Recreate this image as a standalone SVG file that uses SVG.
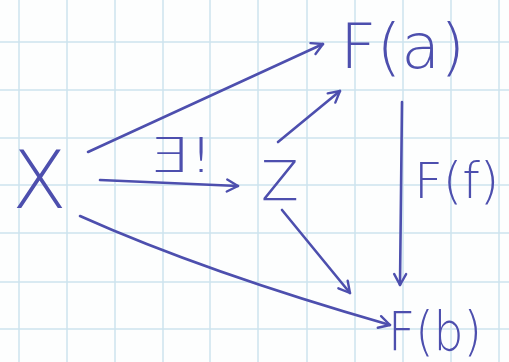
<svg xmlns="http://www.w3.org/2000/svg" width="509" height="362" viewBox="0 0 509 362">
  <style>
    .grid line { stroke: #cde3ee; stroke-width: 1.5; }
    .ink { font-family: "DejaVu Sans", "Liberation Sans", sans-serif; font-weight: 200; fill: #4d4fae; }
    .edge { fill: none; stroke: #4d4fae; stroke-width: 2.6; stroke-linecap: round; }
  </style>
  <defs>
    <marker id="arr" viewBox="0 0 16 16" refX="14" refY="8" markerWidth="16" markerHeight="16" markerUnits="userSpaceOnUse" orient="auto">
      <path d="M3,2 L14,8 L3,14" fill="none" stroke="#4d4fae" stroke-width="2.4" stroke-linecap="round" stroke-linejoin="round"/>
    </marker>
  </defs>
  <rect width="509" height="362" fill="#fdfefe"/>
  <g class="grid">
    <line x1="19" y1="0" x2="19" y2="362"/>
    <line x1="67" y1="0" x2="67" y2="362"/>
    <line x1="115" y1="0" x2="115" y2="362"/>
    <line x1="163" y1="0" x2="163" y2="362"/>
    <line x1="210" y1="0" x2="210" y2="362"/>
    <line x1="258" y1="0" x2="258" y2="362"/>
    <line x1="307" y1="0" x2="307" y2="362"/>
    <line x1="355" y1="0" x2="355" y2="362"/>
    <line x1="403" y1="0" x2="403" y2="362"/>
    <line x1="451" y1="0" x2="451" y2="362"/>
    <line x1="499" y1="0" x2="499" y2="362"/>
    <line x1="0" y1="42" x2="509" y2="42"/>
    <line x1="0" y1="90" x2="509" y2="90"/>
    <line x1="0" y1="138" x2="509" y2="138"/>
    <line x1="0" y1="185" x2="509" y2="185"/>
    <line x1="0" y1="233" x2="509" y2="233"/>
    <line x1="0" y1="282" x2="509" y2="282"/>
    <line x1="0" y1="329" x2="509" y2="329"/>
  </g>
  <g id="connectors">
    <path class="edge" d="M88,152 L323,44" marker-end="url(#arr)"/>
    <path class="edge" d="M100,180 L238,186" marker-end="url(#arr)"/>
    <path class="edge" d="M278,142 L340,91" marker-end="url(#arr)"/>
    <path class="edge" d="M282,210 L350,293" marker-end="url(#arr)"/>
    <path class="edge" d="M402,102 L400,285" marker-end="url(#arr)"/>
    <path class="edge" d="M80,216 Q205,272 390,325" marker-end="url(#arr)"/>
    <text class="ink" x="148" y="172" font-size="48" textLength="66" lengthAdjust="spacingAndGlyphs">∃!</text>
    <text class="ink" x="414" y="198" font-size="50">F(f)</text>
  </g>
  <g id="node-X">
    <text class="ink" x="12" y="208" font-size="80">X</text>
  </g>
  <g id="node-Z">
    <text class="ink" x="261" y="200" font-size="55">Z</text>
  </g>
  <g id="node-Fa">
    <text class="ink" x="340" y="68" font-size="63" textLength="125" lengthAdjust="spacingAndGlyphs">F(a)</text>
  </g>
  <g id="node-Fb">
    <text class="ink" x="388" y="350" font-size="54" textLength="94" lengthAdjust="spacingAndGlyphs">F(b)</text>
  </g>
</svg>
